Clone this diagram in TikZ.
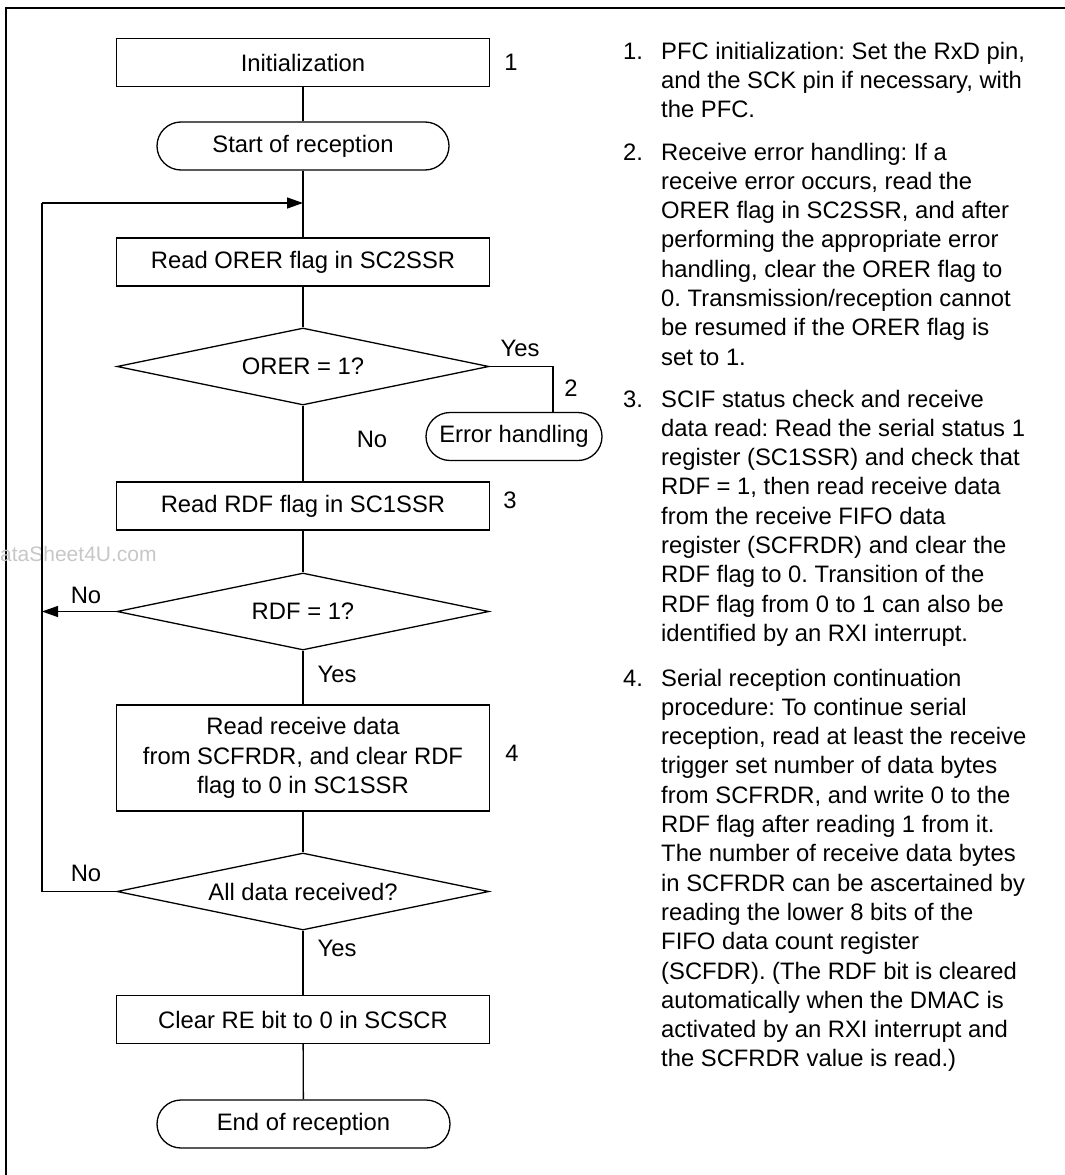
\documentclass[tikz,border=0pt]{standalone}
\usepackage{fontspec}
\setmainfont{Liberation Sans}
\usetikzlibrary{arrows.meta,shapes.geometric}
\newcommand\myfs{\fontsize{23.8}{29.3}\selectfont\frenchspacing}
\tikzset{
  flow/.style={line width=1.3pt},
  arr/.style={flow,-{Triangle[length=16pt,width=11pt]}},
  stepbox/.style={draw,line width=1.3pt,minimum width=373pt,minimum height=48pt,inner sep=0pt,align=center,font=\myfs},
  term/.style={draw,line width=1.3pt,rounded corners=24pt,minimum height=48pt,inner sep=0pt,font=\myfs},
  dec/.style={draw,line width=1.3pt,diamond,aspect=4.83,minimum width=372pt,minimum height=77pt,inner sep=0pt,font=\myfs},
  lbl/.style={inner sep=0pt,font=\myfs},
  para/.style={inner sep=0pt,font=\myfs,align=left,anchor=base west},
}
\begin{document}
\frenchspacing
\begin{tikzpicture}[x=1pt,y=-1pt]
\useasboundingbox (0,0) rectangle (1065,1175);
\draw[line width=2pt] (6,1175) -- (6,7.5) -- (1065,7.5);
\node[inner sep=0pt,anchor=west,text=black!22,font=\fontsize{21}{25}\selectfont] (wm) at (0,554) {ataSheet4U.com};

% flowchart nodes
\node[stepbox] (init) at (303,62.5) {Initialization};
\node[term,minimum width=292pt] (start) at (303,146) {Start of reception};
\node[stepbox] (orerbox) at (303,262) {Read ORER flag in SC2SSR};
\node[dec] (orerd) at (303,366.5) {ORER = 1?};
\node[term,minimum width=176pt] (err) at (514,436.5) {Error handling};
\node[stepbox] (rdfbox) at (303,506) {Read RDF flag in SC1SSR};
\node[dec] (rdfd) at (303,611.5) {RDF = 1?};
\node[stepbox,minimum height=106pt] (readbox) at (303,758) {Read receive data\\from SCFRDR, and clear RDF\\flag to 0 in SC1SSR};
\node[dec] (alld) at (303,891.5) {All data received?};
\node[stepbox] (rebox) at (303,1019.5) {Clear RE bit to 0 in SCSCR};
\node[term,minimum width=293pt] (endn) at (303.5,1124) {End of reception};

% step numbers
\node[lbl] (n1) at (511,62) {1};
\node[lbl] (n2) at (571,388) {2};
\node[lbl] (n3) at (510,500) {3};
\node[lbl] (n4) at (512,753) {4};

% branch labels
\node[lbl] (yes1) at (520,348) {Yes};
\node[lbl] (no1) at (372,439) {No};
\node[lbl] (no2) at (86,595) {No};
\node[lbl] (yes2) at (337,674) {Yes};
\node[lbl] (no3) at (86,873) {No};
\node[lbl] (yes3) at (337,948) {Yes};

% coordinates
\coordinate (j1) at (303,203);
\coordinate (lt) at (42,203);
\coordinate (lb) at (42,891.5);
\coordinate (rl) at (42,611.5);
\coordinate (yc) at (553,366.5);

% connectors
\draw[flow] (init) -- (start);
\draw[flow] (start) -- (orerbox);
\draw[flow] (orerbox) -- (orerd);
\draw[flow] (orerd) -- (rdfbox);
\draw[flow] (orerd.east) -- (yc) -- (yc |- err.north);
\draw[flow] (rdfbox) -- (rdfd);
\draw[arr] (rdfd.west) -- (rl);
\draw[flow] (rdfd) -- (readbox);
\draw[flow] (readbox) -- (alld);
\draw[flow] (alld.west) -- (lb) -- (lt);
\draw[arr] (lt) -- (j1);
\draw[flow] (alld) -- (rebox);
\draw[flow] (rebox) -- (endn);

% notes (base anchor = baseline of the last line)
\node[para] (m1) at (623,59) {1.};
\node[para] (t1) at (661,117.6) {PFC initialization: Set the RxD pin,\\and the SCK pin if necessary, with\\the PFC.};
\node[para] (m2) at (623,160) {2.};
\node[para] (t2) at (661,365.1) {Receive error handling: If a\\receive error occurs, read the\\ORER flag in SC2SSR, and after\\performing the appropriate error\\handling, clear the ORER flag to\\0. Transmission/reception cannot\\be resumed if the ORER flag is\\set to 1.};
\node[para] (m3) at (623,407) {3.};
\node[para] (t3) at (661,641.4) {SCIF status check and receive\\data read: Read the serial status 1\\register (SC1SSR) and check that\\RDF = 1, then read receive data\\from the receive FIFO data\\register (SCFRDR) and clear the\\RDF flag to 0. Transition of the\\RDF flag from 0 to 1 can also be\\identified by an RXI interrupt.};
\node[para] (m4) at (623,686) {4.};
\node[para] (t4) at (661,1066.9) {Serial reception continuation\\procedure: To continue serial\\reception, read at least the receive\\trigger set number of data bytes\\from SCFRDR, and write 0 to the\\RDF flag after reading 1 from it.\\The number of receive data bytes\\in SCFRDR can be ascertained by\\reading the lower 8 bits of the\\FIFO data count register\\(SCFDR). (The RDF bit is cleared\\automatically when the DMAC is\\activated by an RXI interrupt and\\the SCFRDR value is read.)};
\end{tikzpicture}
\end{document}
